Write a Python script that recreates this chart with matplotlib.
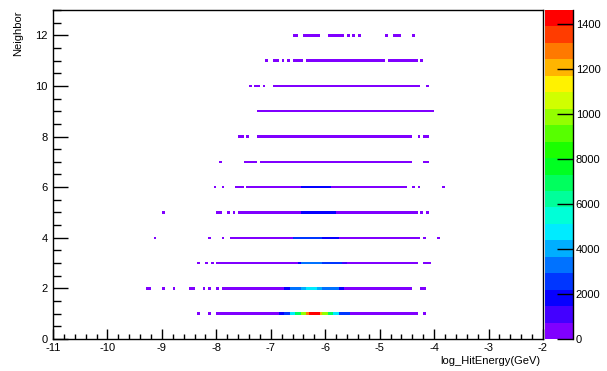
import numpy as np
import matplotlib
matplotlib.use('Agg')
import matplotlib.pyplot as plt
from matplotlib.colors import ListedColormap, BoundaryNorm, hsv_to_rgb
from matplotlib.ticker import MultipleLocator

# histogram binning: log10(hit energy) vs number of neighbours
x_min, x_max, dx = -11.0, -2.0, 0.05
y_min, y_max, dy = 0.0, 13.0, 0.1
z_max = 14600
n_levels = 20

# continuous stretch of filled bins per neighbour count (low counts)
rows = [1, 2, 3, 4, 5, 6, 7, 8, 9, 10, 11, 12]
line_start = [-7.83, -7.90, -8.00, -7.68, -7.58, -7.46, -7.18, -7.23, -7.23, -6.93, -6.33, None]
line_stop = [-4.32, -4.39, -4.28, -4.26, -4.32, -4.50, -4.38, -4.38, -4.12, -4.23, -4.92, None]
line_count = 300

# sparse bins away from the main stretch: (neighbours, x from, x to)
dots = [
    (1, -8.35, -8.30), (1, -8.13, -8.08), (1, -8.00, -7.90), (1, -7.90, -7.85), (1, -4.22, -4.17),
    (2, -9.28, -9.20), (2, -9.02, -8.97), (2, -8.82, -8.77), (2, -8.48, -8.40), (2, -8.23, -8.18),
    (2, -8.13, -8.08), (2, -8.00, -7.93), (2, -4.25, -4.17),
    (3, -8.37, -8.28), (3, -8.22, -8.17), (3, -8.08, -8.03), (3, -4.20, -4.03),
    (4, -9.15, -9.10), (4, -8.13, -8.08), (4, -7.90, -7.85), (4, -7.77, -7.72), (4, -4.20, -4.13),
    (4, -3.95, -3.90),
    (5, -9.02, -8.97), (5, -8.00, -7.92), (5, -7.82, -7.75), (5, -7.68, -7.63), (5, -4.27, -4.22),
    (5, -4.13, -4.08),
    (6, -8.05, -8.00), (6, -7.88, -7.83), (6, -7.65, -7.52), (6, -4.42, -4.37), (6, -4.30, -4.25),
    (6, -3.85, -3.80),
    (7, -7.95, -7.90), (7, -7.48, -7.23), (7, -4.20, -4.10),
    (8, -7.58, -7.50), (8, -7.47, -7.40), (8, -4.32, -4.25), (8, -4.20, -4.10),
    (9, -4.08, -4.00),
    (10, -7.40, -7.33), (10, -7.28, -7.20), (10, -7.15, -7.10), (10, -4.13, -4.08),
    (11, -7.12, -7.05), (11, -6.93, -6.87), (11, -6.80, -6.75), (11, -6.70, -6.65),
    (11, -6.60, -6.38), (11, -4.85, -4.62), (11, -4.60, -4.30), (11, -4.27, -4.22),
    (12, -6.60, -6.48), (12, -6.40, -6.30), (12, -6.28, -6.10), (12, -5.93, -5.77),
    (12, -5.75, -5.67), (12, -5.62, -5.57), (12, -5.52, -5.47), (12, -5.40, -5.35),
    (12, -4.90, -4.85), (12, -4.73, -4.62), (12, -4.42, -4.37),
]
dot_count = 40

# high-occupancy region around log E ~ -6.2: (neighbours, x from, x to, count)
peaks = [
    (1, -6.85, -6.75, 1800), (1, -6.75, -6.65, 2600), (1, -6.65, -6.55, 4600),
    (1, -6.55, -6.45, 7000), (1, -6.45, -6.35, 10200), (1, -6.35, -6.30, 12600),
    (1, -6.30, -6.10, 14300), (1, -6.10, -6.05, 12000), (1, -6.05, -5.95, 9800),
    (1, -5.95, -5.85, 7200), (1, -5.85, -5.75, 4800), (1, -5.75, -5.55, 2500),
    (2, -6.75, -6.65, 1600), (2, -6.65, -6.45, 3000), (2, -6.45, -6.35, 4300),
    (2, -6.35, -6.15, 5000), (2, -6.15, -6.05, 4300), (2, -6.05, -5.75, 3000),
    (2, -5.75, -5.65, 1600),
    (3, -6.50, -6.45, 1500), (3, -6.45, -6.05, 3400), (3, -6.05, -5.70, 2300),
    (3, -5.70, -5.60, 1200),
    (4, -6.60, -6.05, 2500), (4, -6.05, -5.75, 1700),
    (5, -6.45, -5.80, 1800),
    (6, -6.45, -5.90, 1600),
]

colorbar_ticks = [0, 2000, 4000, 6000, 8000, 10000, 12000, 14000]
colorbar_labels = ['0', '2000', '4000', '6000', '8000', '1000', '1200', '1400']

xedges = np.linspace(x_min, x_max, int(round((x_max - x_min) / dx)) + 1)
yedges = np.linspace(y_min, y_max, int(round((y_max - y_min) / dy)) + 1) - dy / 2
counts = np.zeros((len(yedges) - 1, len(xedges) - 1))


def fill(row, x0, x1, value):
    j = int(np.searchsorted(yedges, row) - 1)
    i0 = int(round((x0 - x_min) / dx))
    i1 = max(int(round((x1 - x_min) / dx)), i0 + 1)
    counts[j, i0:i1] = value


for r, a, b in zip(rows, line_start, line_stop):
    if a is not None:
        fill(r, a, b, line_count)
for r, a, b in dots:
    fill(r, a, b, dot_count)
for r, a, b, v in peaks:
    fill(r, a, b, v)

# rainbow palette, violet -> red, one colour per contour level
hues = np.linspace(270, 0, n_levels) / 360
palette = ListedColormap(hsv_to_rgb(np.column_stack([hues, np.ones(n_levels), np.ones(n_levels)])))
levels = np.linspace(0, z_max, n_levels + 1)
norm = BoundaryNorm(levels, n_levels)

plt.rcParams['font.family'] = ['Liberation Sans', 'DejaVu Sans']
plt.rcParams['axes.unicode_minus'] = False
fs = 8

fig = plt.figure(figsize=(6.07, 3.71), dpi=100)
ax = fig.add_axes([53 / 607, 32 / 371, 490 / 607, 329 / 371])
cax = fig.add_axes([545 / 607, 32 / 371, 28 / 607, 329 / 371])

mesh = ax.pcolormesh(xedges, yedges, np.ma.masked_equal(counts, 0),
                     cmap=palette, norm=norm, antialiased=False, linewidth=0)

ax.set_xlim(x_min, x_max)
ax.set_ylim(y_min, y_max)
ax.xaxis.set_major_locator(MultipleLocator(1))
ax.xaxis.set_minor_locator(MultipleLocator(0.2))
ax.yaxis.set_major_locator(MultipleLocator(2))
ax.yaxis.set_minor_locator(MultipleLocator(0.5))
ax.tick_params(which='both', direction='in', top=False, right=False,
               labelsize=fs, width=1, color='black')
ax.tick_params(axis='x', which='major', length=7.2, pad=3)
ax.tick_params(axis='x', which='minor', length=3.6)
ax.tick_params(axis='y', which='major', length=10.8, pad=4)
ax.tick_params(axis='y', which='minor', length=5.6)
for s in ax.spines.values():
    s.set_linewidth(1)

ax.set_xlabel('log_HitEnergy(GeV)', fontsize=fs, loc='right')
ax.xaxis.set_label_coords(0.994, -0.052)
ax.set_ylabel('Neighbor', fontsize=fs, loc='top')
ax.yaxis.set_label_coords(-0.06, 1.0)

cb = fig.colorbar(mesh, cax=cax, ticks=colorbar_ticks)
cb.ax.set_yticklabels(colorbar_labels)
cb.outline.set_visible(False)
cax.spines['right'].set_visible(True)
cax.spines['right'].set_linewidth(1)
cax.tick_params(direction='in', length=11.5, width=1, right=True, left=False,
                labelsize=fs, pad=2)
cax.minorticks_off()

fig.savefig('out.png', dpi=100)
